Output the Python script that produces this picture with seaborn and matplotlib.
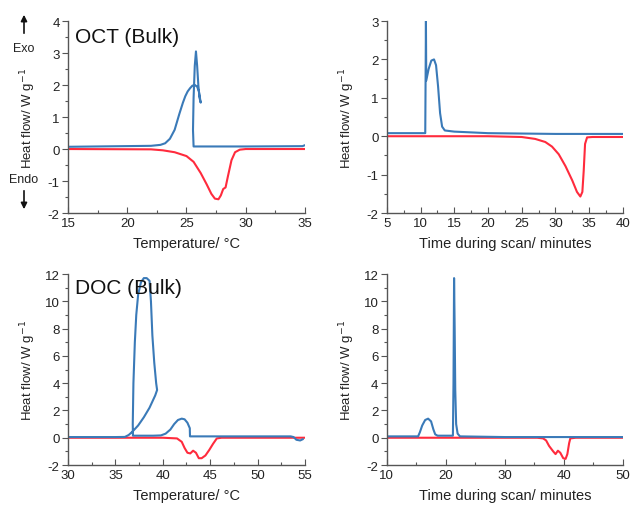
import numpy as np
import pandas as pd
import matplotlib
matplotlib.use("Agg")
import matplotlib.pyplot as plt
import seaborn as sns

# ---------------- data ----------------
# OCT (Bulk) vs temperature
oct_T_cool = [35.0, 34.8, 30.0, 27.0, 25.6, 25.55, 25.6, 25.7, 25.8, 25.9, 26.0, 26.1, 26.2,
              26.05, 25.9, 25.7, 25.5, 25.3, 25.1, 24.9, 24.7, 24.4, 24.0, 23.6, 23.2, 22.8, 22.0, 15.0]
oct_hf_cool = [0.12, 0.09, 0.08, 0.08, 0.08, 0.6, 1.6, 2.6, 3.05, 2.6, 2.0, 1.6, 1.45,
               1.8, 1.95, 2.0, 1.98, 1.9, 1.8, 1.65, 1.45, 1.1, 0.6, 0.32, 0.18, 0.13, 0.1, 0.07]
oct_T_heat = [15.0, 22.0, 23.0, 24.0, 25.0, 25.6, 26.2, 26.7, 27.1, 27.4, 27.7, 27.9, 28.1, 28.3,
              28.5, 28.8, 29.1, 29.5, 30.0, 35.0]
oct_hf_heat = [0.0, -0.01, -0.04, -0.1, -0.22, -0.4, -0.75, -1.1, -1.4, -1.55, -1.57, -1.45, -1.25,
               -1.2, -0.85, -0.35, -0.1, -0.02, 0.0, 0.0]

# OCT (Bulk) vs time
oct_t_cool = [5.0, 10.7, 10.75, 10.8, 10.85, 11.2, 11.6, 12.0, 12.3, 12.6, 12.9, 13.2, 13.6, 15.0,
              20.0, 30.0, 40.0]
oct_hft_cool = [0.08, 0.08, 1.5, 3.0, 1.45, 1.75, 1.97, 2.0, 1.85, 1.3, 0.6, 0.25, 0.15, 0.12,
                0.08, 0.06, 0.06]
oct_t_heat = [5.0, 20.0, 25.0, 27.0, 28.5, 29.5, 30.5, 31.5, 32.5, 33.2, 33.7, 34.0, 34.2, 34.4,
              34.7, 35.5, 40.0]
oct_hft_heat = [0.0, 0.0, -0.02, -0.07, -0.15, -0.27, -0.47, -0.78, -1.15, -1.45, -1.57, -1.45,
                -0.9, -0.2, -0.03, -0.02, -0.02]

# DOC (Bulk) vs temperature
doc_T_cool = [54.8, 54.5, 54.1, 53.8, 53.5, 50.0, 45.0, 43.0, 42.87, 42.85, 42.6, 42.3, 42.0, 41.6,
              41.2, 40.8, 40.3, 39.8, 39.0, 38.0, 37.0, 36.85, 36.83, 36.9, 37.05, 37.2, 37.4, 37.7,
              38.0, 38.3, 38.6, 38.75, 38.9, 39.1, 39.3, 39.4, 39.2, 38.6, 38.0, 37.4, 36.8, 36.4,
              36.0, 35.0, 30.0]
doc_hf_cool = [-0.1, -0.2, -0.15, 0.05, 0.1, 0.1, 0.1, 0.1, 0.1, 0.7, 1.1, 1.35, 1.4, 1.3,
               1.0, 0.6, 0.3, 0.17, 0.15, 0.15, 0.15, 0.15, 1.0, 4.0, 7.0, 9.0, 10.5, 11.4,
               11.7, 11.7, 11.5, 10.0, 7.5, 5.5, 4.0, 3.5, 3.1, 2.2, 1.5, 0.9, 0.45, 0.2,
               0.06, 0.05, 0.05]
doc_T_heat = [30.0, 40.0, 41.5, 42.0, 42.3, 42.6, 42.9, 43.2, 43.5, 43.8, 44.1, 44.5, 44.9, 45.3,
              45.7, 46.2, 55.0]
doc_hf_heat = [0.0, 0.0, -0.05, -0.3, -0.75, -1.1, -1.15, -0.95, -1.1, -1.5, -1.5, -1.3, -0.9,
               -0.45, -0.05, 0.0, 0.0]

# DOC (Bulk) vs time
doc_t_cool = [10.0, 15.3, 15.6, 16.0, 16.5, 17.0, 17.5, 17.9, 18.2, 18.6, 21.2, 21.3, 21.4, 21.5,
              21.6, 21.75, 22.0, 22.4, 30.0, 36.5, 41.0, 50.0]
doc_hft_cool = [0.1, 0.1, 0.4, 0.9, 1.3, 1.4, 1.2, 0.6, 0.25, 0.15, 0.15, 4.0, 11.7, 8.0,
                3.5, 1.0, 0.3, 0.1, 0.05, 0.05, 0.05, 0.05]
doc_t_heat = [10.0, 35.5, 36.5, 37.0, 37.5, 38.2, 38.6, 39.0, 39.4, 39.9, 40.3, 40.6, 40.9, 41.1,
              42.0, 50.0]
doc_hft_heat = [0.0, 0.0, -0.05, -0.2, -0.6, -1.0, -1.2, -0.95, -1.1, -1.5, -1.55, -1.2, -0.4,
                -0.05, 0.0, 0.0]

BLUE = "#3a7ab8"
RED = "#ff2b3d"
AX_COL = "#555555"
TXT = "#222222"

sns.set_theme(style="ticks")
plt.rcParams["font.family"] = ["Liberation Sans", "DejaVu Sans"]
plt.rcParams["axes.unicode_minus"] = False

fig = plt.figure(figsize=(6.3, 5.06), dpi=100)
ax_tl = fig.add_axes([0.108, 0.577, 0.376, 0.3795])
ax_tr = fig.add_axes([0.614, 0.577, 0.3746, 0.3795])
ax_bl = fig.add_axes([0.108, 0.079, 0.376, 0.3775])
ax_br = fig.add_axes([0.614, 0.079, 0.3746, 0.3775])


def draw(ax, xc, yc, xh, yh):
    df_c = pd.DataFrame({"x": xc, "y": yc})
    df_h = pd.DataFrame({"x": xh, "y": yh})
    sns.lineplot(data=df_h, x="x", y="y", ax=ax, sort=False, estimator=None,
                 color=RED, lw=1.5)
    sns.lineplot(data=df_c, x="x", y="y", ax=ax, sort=False, estimator=None,
                 color=BLUE, lw=1.5)


def style(ax, xlim, ylim, xmajor, ymajor, xlabel):
    ax.set_xlim(*xlim)
    ax.set_ylim(*ylim)
    ax.set_xticks(np.arange(xlim[0], xlim[1] + 0.01, xmajor))
    ax.set_yticks(np.arange(ylim[0], ylim[1] + 0.01, ymajor))
    ax.set_xticks(np.arange(xlim[0], xlim[1] + 0.01, xmajor / 2), minor=True)
    ax.set_yticks(np.arange(ylim[0], ylim[1] + 0.01, ymajor / 2), minor=True)
    sns.despine(ax=ax)
    for s in ("left", "bottom"):
        ax.spines[s].set_color(AX_COL)
        ax.spines[s].set_linewidth(1.0)
    ax.tick_params(axis="x", which="both", direction="in", colors=AX_COL,
                   labelcolor=TXT, labelsize=9.5, pad=3)
    ax.tick_params(axis="y", which="both", direction="out", colors=AX_COL,
                   labelcolor=TXT, labelsize=9.5, pad=2)
    ax.tick_params(which="major", length=4, width=0.8)
    ax.tick_params(which="minor", length=2.5, width=0.8)
    ax.set_xlabel(xlabel, fontsize=10.5, color=TXT, labelpad=5)
    ax.set_ylabel("Heat flow/ W g$^{-1}$", fontsize=9.5, color=TXT)
    ax.yaxis.set_label_coords(-0.125, 0.5)


draw(ax_tl, oct_T_cool, oct_hf_cool, oct_T_heat, oct_hf_heat)
style(ax_tl, (15, 35), (-2, 4), 5, 1, "Temperature/ °C")
ax_tl.text(0.03, 0.97, "OCT (Bulk)", transform=ax_tl.transAxes, fontsize=15,
           va="top", ha="left", color="#111111")

draw(ax_tr, oct_t_cool, oct_hft_cool, oct_t_heat, oct_hft_heat)
style(ax_tr, (5, 40), (-2, 3), 5, 1, "Time during scan/ minutes")

draw(ax_bl, doc_T_cool, doc_hf_cool, doc_T_heat, doc_hf_heat)
style(ax_bl, (30, 55), (-2, 12), 5, 2, "Temperature/ °C")
ax_bl.text(0.03, 0.98, "DOC (Bulk)", transform=ax_bl.transAxes, fontsize=15,
           va="top", ha="left", color="#111111")

draw(ax_br, doc_t_cool, doc_hft_cool, doc_t_heat, doc_hft_heat)
style(ax_br, (10, 50), (-2, 12), 10, 2, "Time during scan/ minutes")

# Exo / Endo markers
fig.text(24 / 630, 1 - 49 / 506, "Exo", fontsize=9, ha="center", va="center", color=TXT)
fig.text(24 / 630, 1 - 180 / 506, "Endo", fontsize=9, ha="center", va="center", color=TXT)
fig.patches.append(matplotlib.patches.FancyArrowPatch(
    (24 / 630, 1 - 37 / 506), (24 / 630, 1 - 13 / 506), transform=fig.transFigure,
    arrowstyle="-|>", mutation_scale=9, color="#111111", lw=1.2))
fig.patches.append(matplotlib.patches.FancyArrowPatch(
    (24 / 630, 1 - 189 / 506), (24 / 630, 1 - 213 / 506), transform=fig.transFigure,
    arrowstyle="-|>", mutation_scale=9, color="#111111", lw=1.2))

fig.savefig("out.png", dpi=100)
